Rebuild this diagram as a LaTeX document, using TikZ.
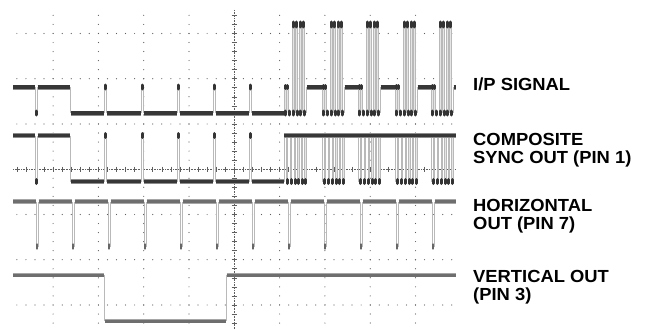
\documentclass[tikz,border=0pt]{standalone}
\usepackage{fontspec}
\usepackage{xcolor}
\usepackage{tikz}
\usetikzlibrary{positioning}
\newfontfamily\tagfont{Liberation Sans}[FakeStretch=1.05]
\definecolor{scopedark}{RGB}{55, 55, 55}
\definecolor{scopemid}{RGB}{110, 110, 110}
\definecolor{scopeedge}{RGB}{185, 185, 185}
\definecolor{griddot}{RGB}{95, 95, 95}

\begin{document}
\begin{tikzpicture}[x=1pt, y=-1pt,
    lvldark/.style={preaction={draw, line width=5pt, black!45}, line width=3.2pt, scopedark},
    lvlmid/.style={preaction={draw, line width=4.6pt, black!35}, line width=3pt, scopemid},
    edgeline/.style={line width=1pt, scopeedge},
    pulsefill/.style={fill=black!10},
    blobdark/.style={line width=3pt, line cap=round, black!80},
    blobmid/.style={line width=2.8pt, line cap=round, black!60},
    centreline/.style={griddot, line width=0.7pt, dash pattern=on 0.7pt off 0.9pt},
    tickmark/.style={griddot, line width=0.6pt},
    tag/.style={anchor=base west, inner sep=0pt, align=left,
        font=\tagfont\fontsize{17.5}{18.8}\selectfont\bfseries}]
    \useasboundingbox (0,0) rectangle (650,329);

    % Grid: minor dots on the major lines
    \foreach \gy in {33.5, 78.7, 124, 214.5, 259.7, 305}
        \foreach \j in {1,...,49}
            \fill[griddot] (7.8+9.06*\j, \gy) circle[radius=0.6pt];
    \foreach \gx in {53.1, 98.4, 143.7, 189, 279.6, 324.9, 370.2, 415.5}
        \foreach \j in {-17,...,17}
            \fill[griddot] (\gx, 169.2+9.05*\j) circle[radius=0.6pt];

    % Centre axes with ticks
    \draw[centreline] (234.3,10) -- (234.3,329);
    \draw[centreline] (13,169.2) -- (456,169.2);
    \foreach \j in {-17,...,17}
        \draw[tickmark] (231.6,169.2+9.05*\j) -- (237,169.2+9.05*\j);
    \foreach \j in {-24,...,24}
        \draw[tickmark] (234.3+9.06*\j,166.5) -- (234.3+9.06*\j,171.9);

    % Trace 1: I/P signal (high 87, low 113, top 24)
    \draw[edgeline] (35,87) -- (35,113) (37,113) -- (37,87) (70.5,87) -- (70.5,113);
    \foreach \p in {104, 141, 177, 213, 249}
        \draw[edgeline] (\p,113) -- (\p,87) (\p+2,87) -- (\p+2,113);
    \foreach \b in {284.3, 322, 358, 395, 431} {
        \fill[pulsefill] (\b,87) rectangle (\b+4,113);
        \draw[edgeline] (\b,87) -- (\b,113) (\b+2,113) -- (\b+2,87)
            (\b+4,87) -- (\b+4,113) (\b+22,113) -- (\b+22,87);
        \foreach \t in {8, 11.5, 15, 18.5} {
            \fill[pulsefill] (\b+\t,24) rectangle (\b+\t+2,113);
            \draw[edgeline] (\b+\t,113) -- (\b+\t,24) (\b+\t+2,24) -- (\b+\t+2,113);
        }
    }
    \draw[lvldark] (13,87) -- (34.5,87) (37.5,87) -- (70,87);
    \foreach \a/\e in {71/103.5, 106.5/140.5, 143.5/176.5, 179.5/212.5, 215.5/248.5, 251.5/284}
        \draw[lvldark] (\a,113) -- (\e,113);
    \foreach \a/\e in {306.8/321.5, 344.5/357.5, 380.5/394.5, 417.5/430.5, 453.5/456}
        \draw[lvldark] (\a,87) -- (\e,87);
    \draw[blobdark] (36,111) -- (36,115);
    \foreach \p in {104, 141, 177, 213, 249}
        \draw[blobdark] (\p+1,85) -- (\p+1,89);
    \foreach \b in {284.3, 322, 358, 395, 431} {
        \draw[blobdark] (\b+1,85.5) -- (\b+1,88.5) (\b+3,85.5) -- (\b+3,88.5);
        \foreach \t in {8, 11.5, 15, 18.5}
            \draw[blobdark] (\b+\t+1,22) -- (\b+\t+1,27);
        \foreach \t in {1, 5.2, 9.3, 12.8, 16.3, 20.2}
            \draw[blobdark] (\b+\t+0.3,111) -- (\b+\t+0.3,115);
    }

    % Trace 2: composite sync out (high 135.5, low 181.5)
    \draw[edgeline] (35,135.5) -- (35,181.5) (37,181.5) -- (37,135.5) (70.5,135.5) -- (70.5,181.5);
    \foreach \p in {104, 141, 177, 213, 249}
        \draw[edgeline] (\p,181.5) -- (\p,135.5) (\p+2,135.5) -- (\p+2,181.5);
    \foreach \b in {284.3, 322, 358, 395, 431} {
        \draw[edgeline] (\b,181.5) -- (\b,135.5);
        \foreach \t in {2, 6, 10, 13.5, 17, 20.5} {
            \fill[pulsefill] (\b+\t,135.5) rectangle (\b+\t+1.6,181.5);
            \draw[edgeline] (\b+\t,135.5) -- (\b+\t,181.5) (\b+\t+1.6,181.5) -- (\b+\t+1.6,135.5);
        }
    }
    \draw[lvldark] (13,135.5) -- (34.5,135.5) (37.5,135.5) -- (70,135.5);
    \foreach \a/\e in {71/103.5, 106.5/140.5, 143.5/176.5, 179.5/212.5, 215.5/248.5, 251.5/284}
        \draw[lvldark] (\a,181.5) -- (\e,181.5);
    \draw[lvldark] (284.3,135.5) -- (456,135.5);
    \draw[blobdark] (36,179.5) -- (36,183.5);
    \foreach \p in {104, 141, 177, 213, 249}
        \draw[blobdark] (\p+1,133.5) -- (\p+1,137.5);
    \foreach \b in {284.3, 322, 358, 395, 431}
        \foreach \t in {2, 6, 10, 13.5, 17, 20.5}
            \draw[blobdark] (\b+\t+0.8,179.5) -- (\b+\t+0.8,183.5);

    % Trace 3: horizontal out (high 201.7, pulses to 247.3)
    \foreach \p in {36, 72, ..., 432}
        \draw[edgeline] (\p,201.7) -- (\p,247.3) (\p+2,247.3) -- (\p+2,201.7);
    \draw[lvlmid] (13,201.7) -- (35.5,201.7) (434.5,201.7) -- (456,201.7);
    \foreach \p in {0, 36, ..., 360}
        \draw[lvlmid] (\p+38.5,201.7) -- (\p+71.5,201.7);
    \foreach \p in {36, 72, ..., 432}
        \draw[blobmid] (\p+1,244.5) -- (\p+1,248.5);

    % Trace 4: vertical out (high 275, low 321)
    \draw[edgeline] (104,275) -- (104,321) (226,321) -- (226,275);
    \draw[lvlmid] (13,275) -- (103.5,275) (226.5,275) -- (456,275);
    \draw[lvlmid] (104.5,321) -- (225.5,321);

    % Trace labels (base = last line)
    \node[tag] (ipsig) at (473,90) {I/P SIGNAL};
    \node[tag] (csync) at (473,163.8) {COMPOSITE\\SYNC OUT (PIN 1)};
    \node[tag] (hout) at (473,229.8) {HORIZONTAL\\OUT (PIN 7)};
    \node[tag] (vout) at (473,300.8) {VERTICAL OUT\\(PIN 3)};
\end{tikzpicture}
\end{document}
